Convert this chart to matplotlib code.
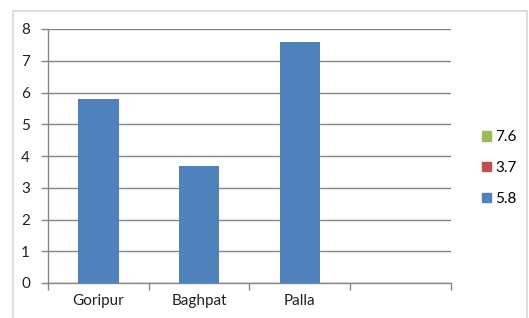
import matplotlib
matplotlib.use("Agg")
import matplotlib.pyplot as plt
from matplotlib.patches import Patch, Rectangle

categories = ["Goripur", "Baghpat", "Palla", ""]
values = [5.8, 3.7, 7.6]
legend_labels = ["7.6", "3.7", "5.8"]
legend_colors = ["#9BBB59", "#C0504D", "#4F81BD"]
bar_color = "#4F81BD"
yticks = [0, 1, 2, 3, 4, 5, 6, 7, 8]

plt.rcParams['font.family'] = ['Lato', 'DejaVu Sans']

W, H = 529, 318
fig = plt.figure(figsize=(W / 100, H / 100), dpi=100)
fig.patch.set_facecolor("white")

# chart border
fig.add_artist(Rectangle((13 / W, -0.01), (527 - 13) / W, (H - 11) / H + 0.01,
                         transform=fig.transFigure, fill=False,
                         edgecolor="#D9D9D9", linewidth=1.2))

ax = fig.add_axes([48 / W, (H - 283) / H, (451 - 48) / W, (283 - 29) / H])
x = list(range(len(values)))
ax.bar(x, values, width=0.4, color=bar_color, zorder=3)

ax.set_xlim(-0.5, len(categories) - 0.5)
ax.set_ylim(0, 8)
ax.set_yticks(yticks)
ax.set_yticklabels([str(t) for t in yticks], fontsize=11, color="#222222")
ax.set_xticks(range(len(categories)))
ax.set_xticklabels(categories, fontsize=11, color="#222222")
ax.tick_params(axis='x', length=0, pad=8)
ax.tick_params(axis='y', length=5, color="#868686", width=1, pad=8)
# category boundary ticks
ax.set_xticks([i - 0.5 for i in range(len(categories) + 1)], minor=True)
ax.tick_params(axis='x', which='minor', length=5, color="#868686", width=1)

ax.yaxis.grid(True, color="#868686", linewidth=1, zorder=0)
for s in ["top", "right"]:
    ax.spines[s].set_visible(False)
ax.spines["left"].set_color("#868686")
ax.spines["bottom"].set_color("#868686")
ax.spines["left"].set_linewidth(1)
ax.spines["bottom"].set_linewidth(1)

handles = [Patch(facecolor=c, edgecolor=c) for c in legend_colors]
fig.legend(handles, legend_labels, loc="center left",
           bbox_to_anchor=(468 / W, 1 - 168 / H), frameon=False,
           fontsize=11, handlelength=0.6, handleheight=0.6,
           handletextpad=0.3, labelspacing=1.1)

fig.savefig("out.png", dpi=100, facecolor="white")
